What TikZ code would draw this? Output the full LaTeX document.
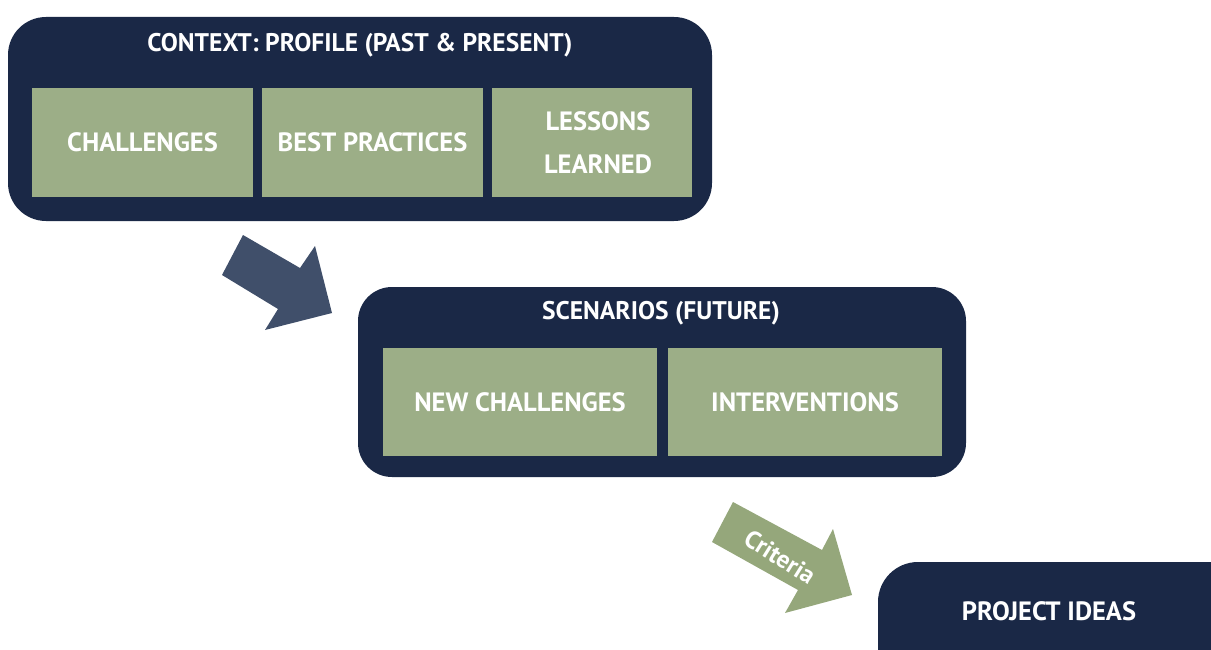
\documentclass[tikz,border=0pt]{standalone}
\usepackage{fontspec}
\setmainfont{PT Sans}
\definecolor{navy}{HTML}{1A2846}
\definecolor{sage}{HTML}{9CAE87}
\definecolor{sagedark}{HTML}{95A77B}
\definecolor{slate}{HTML}{404F6A}
\tikzset{
  panel/.style={fill=navy, draw=none, rounded corners=38pt},
  cell/.style={fill=sage, draw=none, text=white, font=\bfseries\fontsize{26.5}{43}\selectfont,
    align=center, inner sep=0pt},
  heading/.style={text=white, font=\bfseries\fontsize{25.5}{30}\selectfont, inner sep=0pt},
}
\begin{document}
\begin{tikzpicture}[x=1pt, y=-1pt]
\useasboundingbox (0,0) rectangle (1211,650);
\clip (0,0) rectangle (1211,650);

% context panel
\fill[panel] (8,17) rectangle (712,221);
\node[heading] (ctxtitle) at (360,45) {CONTEXT: PROFILE (PAST \& PRESENT)};
\node[cell, minimum width=221pt, minimum height=109pt] (chal) at (142.5,142.5) {CHALLENGES};
\node[cell, minimum width=221pt, minimum height=109pt] (best) at (372.5,142.5) {BEST PRACTICES};
\node[cell, minimum width=200pt, minimum height=109pt] (less) at (592,142.5) {};
\node[text=white, font=\bfseries\fontsize{26.5}{43}\selectfont, align=center, inner sep=0pt] (lesstext) at (598,142.5) {LESSONS\\LEARNED};

% scenarios panel
\fill[panel, rounded corners=34pt] (358,287) rectangle (966,477);
\node[heading] (scntitle) at (661,313) {SCENARIOS (FUTURE)};
\node[cell, minimum width=274pt, minimum height=108pt] (newchal) at (520,402) {NEW CHALLENGES};
\node[cell, minimum width=274pt, minimum height=108pt] (interv) at (805,402) {INTERVENTIONS};

% project ideas panel
\fill[panel, rounded corners=40pt] (878,562) rectangle (1260,700);
\node[heading, font=\bfseries\fontsize{26.5}{30}\selectfont] (ideas) at (1049,611) {PROJECT IDEAS};

% block arrow from context to scenarios
\fill[slate] (243,235) -- (300,268) -- (315,246) -- (332,313) -- (265,330) -- (278,309) -- (222,275) -- cycle;

% block arrow from scenarios to project ideas
\fill[sagedark] (733,502) -- (822,550) -- (833,529) -- (852,595) -- (785,613) -- (798,590) -- (712,542) -- cycle;
\node[text=white, font=\bfseries\fontsize{25}{28}\selectfont, rotate=-32, inner sep=0pt] (crit) at (780,557) {Criteria};
\end{tikzpicture}
\end{document}
